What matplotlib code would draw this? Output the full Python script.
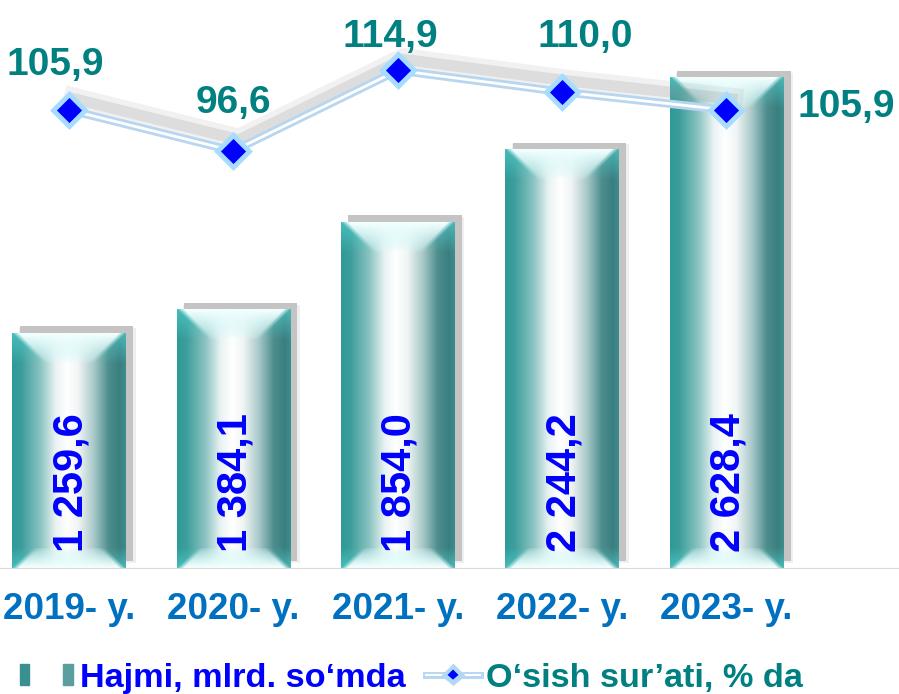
import numpy as np
import matplotlib
matplotlib.use('Agg')
import matplotlib.pyplot as plt
import matplotlib.patheffects as pe
from matplotlib.colors import to_rgb
from matplotlib.lines import Line2D
from matplotlib.patches import Rectangle
from matplotlib.legend_handler import HandlerBase

plt.rcParams['font.family'] = ['Liberation Sans', 'DejaVu Sans']
plt.rcParams['font.weight'] = 'bold'

# data
years = ['2019- y.', '2020- y.', '2021- y.', '2022- y.', '2023- y.']
volume = [1259.6, 1384.1, 1854.0, 2244.2, 2628.4]
volume_labels = ['1 259,6', '1 384,1', '1 854,0', '2 244,2', '2 628,4']
growth = [105.9, 96.6, 114.9, 110.0, 105.9]
growth_labels = ['105,9', '96,6', '114,9', '110,0', '105,9']

# label placement for the growth line (pixels)
label_offsets = [(-14, 35), (0, 38), (-7, 23), (23, 45), (120, -7)]

W_PX, H_PX = 899, 694
fig = plt.figure(figsize=(W_PX / 100, H_PX / 100), dpi=100)
ax = fig.add_axes([0, 126 / H_PX, 1, 568 / H_PX])
x = np.arange(len(years))
width = 0.69
xlim = (-0.42, 5.05)
ylim = (0, 3046)
px_per_unit = 568 / ylim[1]
bar_px = int(round(width * W_PX / (xlim[1] - xlim[0])))

# soft shadows behind the bars
ax.bar(x + 0.05, volume, width + 0.02, bottom=28, color='#efefef', zorder=0.8)
ax.bar(x + 0.045, volume, width, bottom=37, color='#c4c4c4', zorder=0.9)

# cylinder-like gradient for the bars
stops = [0.0, 0.08, 0.25, 0.38, 0.48, 0.58, 0.72, 0.85, 0.95, 1.0]
stop_cols = ['#2f9a98', '#3c9e9c', '#8cc4c2', '#e8f2f2', '#ffffff',
             '#f2f5f5', '#a9c9c9', '#4e8e8e', '#3a7f80', '#3d8c8c']
cyan = np.array(to_rgb('#55d4d2'))
pale = np.array(to_rgb('#f4ffff'))


def cylinder(h, w):
    u = np.linspace(0, 1, w)
    base = np.stack([np.interp(u, stops, [to_rgb(c)[k] for c in stop_cols])
                     for k in range(3)], axis=-1)
    img = np.tile(base, (h, 1, 1))
    side = np.minimum(np.arange(w), w - 1 - np.arange(w))[None, :].astype(float)
    v = np.arange(h)[:, None].astype(float)
    for d, depth in ((v, 30.0), (h - 1 - v, 20.0)):
        fade = np.clip(1 - d / depth, 0, 1)
        cw = (fade * 0.6)[..., None] * np.ones((1, w, 1))
        img = img * (1 - cw) + cyan * cw
        ww = (np.clip((side - d) / 7.0, 0, 1) * fade ** 0.6)[..., None]
        img = img * (1 - ww) + pale * ww
    return np.clip(img, 0, 1)


for xi, val in zip(x, volume):
    h = int(round(val * px_per_unit))
    ax.imshow(cylinder(h, bar_px), extent=(xi - width / 2, xi + width / 2, 0, val),
              aspect='auto', interpolation='bilinear', zorder=2)

for xi, lbl in zip(x, volume_labels):
    ax.annotate(lbl, (xi, 0), xytext=(2, 16), textcoords='offset pixels',
                rotation=90, ha='center', va='bottom', color='#0000ff',
                fontsize=30, fontweight='bold', zorder=5)

ax.set_xlim(*xlim)
ax.set_ylim(*ylim)
ax.set_yticks([])
ax.set_xticks(x)
ax.set_xticklabels(years, color='#0070c0', fontsize=26.5, fontweight='bold')
ax.tick_params(axis='x', length=0, pad=17)
for s in ['top', 'right', 'left']:
    ax.spines[s].set_visible(False)
ax.spines['bottom'].set_color('#d9d9d9')

# growth line on its own scale
ax2 = ax.twinx()
ax2.set_ylim(1.8, 130.9)
ax2.set_axis_off()
line_pe = [pe.SimpleLineShadow(offset=(4, 8), shadow_color='#909090', alpha=0.12, linewidth=16),
           pe.SimpleLineShadow(offset=(4, 8), shadow_color='#909090', alpha=0.2, linewidth=8),
           pe.Stroke(linewidth=6, foreground='#b8d6f0'),
           pe.Normal()]
ax2.plot(x, growth, color='white', lw=2, path_effects=line_pe, zorder=3)
ax2.plot(x, growth, linestyle='none', marker='D', ms=16, mfc='#0000ff',
         mec='#a6dcff', mew=3.5, zorder=4)
for xi, g, lbl, off in zip(x, growth, growth_labels, label_offsets):
    ax2.annotate(lbl, (xi, g), xytext=off, textcoords='offset pixels',
                 ha='center', va='baseline', color='#008080',
                 fontsize=28, fontweight='bold', zorder=6)


class CylHandler(HandlerBase):
    def create_artists(self, legend, orig_handle, xd, yd, w, h, fontsize, trans):
        a = Rectangle((-xd, -yd + 0.05 * h), 0.17 * w, 0.9 * h, color='#3a9090', transform=trans)
        b = Rectangle((-xd + 0.8 * w, -yd + 0.05 * h), 0.2 * w, 0.9 * h, color='#5a9e9e', transform=trans)
        return [a, b]


bar_handle = Rectangle((0, 0), 1, 1)
line_handle = Line2D([], [], color='white', lw=1.5, marker='D', ms=7, mfc='#0000ff',
                     mec='#a6dcff', mew=1.5,
                     path_effects=[pe.Stroke(linewidth=5, foreground='#b8d6f0'), pe.Normal()])
leg = fig.legend([bar_handle, line_handle],
                 ['Hajmi, mlrd. so‘mda', 'O‘sish sur’ati, % da'],
                 handler_map={bar_handle: CylHandler()},
                 loc='center', bbox_to_anchor=(0.458, 0.023), ncol=2, frameon=False,
                 prop={'weight': 'bold', 'size': 24.7}, handlelength=1.55,
                 handletextpad=0.2, columnspacing=0.6)
for t, c in zip(leg.get_texts(), ['#0000ff', '#008080']):
    t.set_color(c)

fig.savefig('out.png', dpi=100)
